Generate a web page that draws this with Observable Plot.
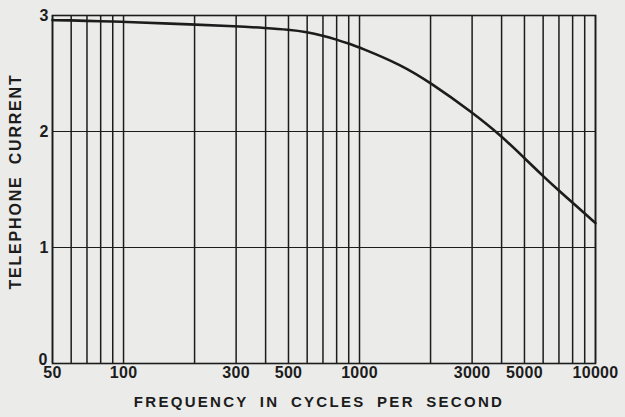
<!DOCTYPE html>
<html>
<head>
<meta charset="utf-8">
<script src="https://cdn.jsdelivr.net/npm/d3@7"></script>
<script src="https://cdn.jsdelivr.net/npm/@observablehq/plot@0.6"></script>
<style>
  html, body { margin: 0; padding: 0; background: #ebebea; }
  #chart svg { display: block; }
  #chart svg text { font-family: "Liberation Sans", Arial, sans-serif; font-weight: bold; }
  .ttl text { letter-spacing: 2.3px; word-spacing: 5px; }
  .ttly text { letter-spacing: 1.8px; word-spacing: 5px; }
  .tk text { letter-spacing: 0.3px; }
</style>
</head>
<body>
<div id="chart"></div>
<script>
// Curve: frequency (cycles per second) vs telephone current
const freq    = [50, 60, 70, 80, 90, 100, 200, 300, 400, 500, 600, 700, 800, 900, 1000, 1500, 2000, 3000, 4000, 5000, 6000, 7000, 8000, 9000, 10000];
const current = [2.96, 2.958, 2.954, 2.95, 2.948, 2.946, 2.922, 2.908, 2.892, 2.878, 2.858, 2.826, 2.792, 2.758, 2.725, 2.575, 2.42, 2.166, 1.96, 1.77, 1.615, 1.49, 1.385, 1.295, 1.21];

// Log-paper grid and axis ticks
const gridX  = [50, 60, 70, 80, 90, 100, 200, 300, 400, 500, 600, 700, 800, 900, 1000, 2000, 3000, 4000, 5000, 6000, 7000, 8000, 9000, 10000];
const gridY  = [0, 1, 2, 3];
const xTicks = [50, 100, 300, 500, 1000, 3000, 5000, 10000];
const yTicks = [0, 1, 2, 3];
const xTitle = "FREQUENCY IN CYCLES PER SECOND";
const yTitle = "TELEPHONE CURRENT";

const data = freq.map((f, i) => ({f, c: current[i]}));
const ink = "#1c1c1c";

const chart = Plot.plot({
  width: 625,
  height: 417,
  marginLeft: 52,
  marginRight: 30,
  marginTop: 15,
  marginBottom: 54,
  style: {background: "#ebebea", color: ink},
  x: {type: "log", domain: [50, 10000], axis: null},
  y: {domain: [0, 3], axis: null},
  marks: [
    Plot.ruleX(gridX, {stroke: ink, strokeWidth: 1.5}),
    Plot.ruleY(gridY, {stroke: ink, strokeWidth: 1.2}),
    Plot.frame({stroke: ink, strokeWidth: 1.6}),
    Plot.line(data, {x: "f", y: "c", curve: "basis", stroke: ink, strokeWidth: 2.6}),
    Plot.text(xTicks, {
      x: d => d, text: d => String(d), frameAnchor: "bottom", lineAnchor: "top", dy: 3,
      fontSize: 16, fill: ink, className: "tk"
    }),
    Plot.text(yTicks.filter(d => d > 0), {
      y: d => d, text: d => String(d), frameAnchor: "left", textAnchor: "end", dx: -4,
      fontSize: 16, fill: ink
    }),
    Plot.text(yTicks.filter(d => d === 0), {
      y: d => d, text: d => String(d), frameAnchor: "left", textAnchor: "end", lineAnchor: "bottom", dx: -5, dy: 1,
      fontSize: 16, fill: ink
    }),
    Plot.text([xTitle], {
      text: d => d, frameAnchor: "bottom", textAnchor: "middle", dx: -5, dy: 43, fontSize: 15, fill: ink, className: "ttl"
    }),
    Plot.text([yTitle], {
      text: d => d, frameAnchor: "left", textAnchor: "middle", dx: -37, dy: -8, rotate: -90,
      fontSize: 16, fill: ink, className: "ttly"
    })
  ]
});
document.getElementById("chart").appendChild(chart);
</script>
</body>
</html>
